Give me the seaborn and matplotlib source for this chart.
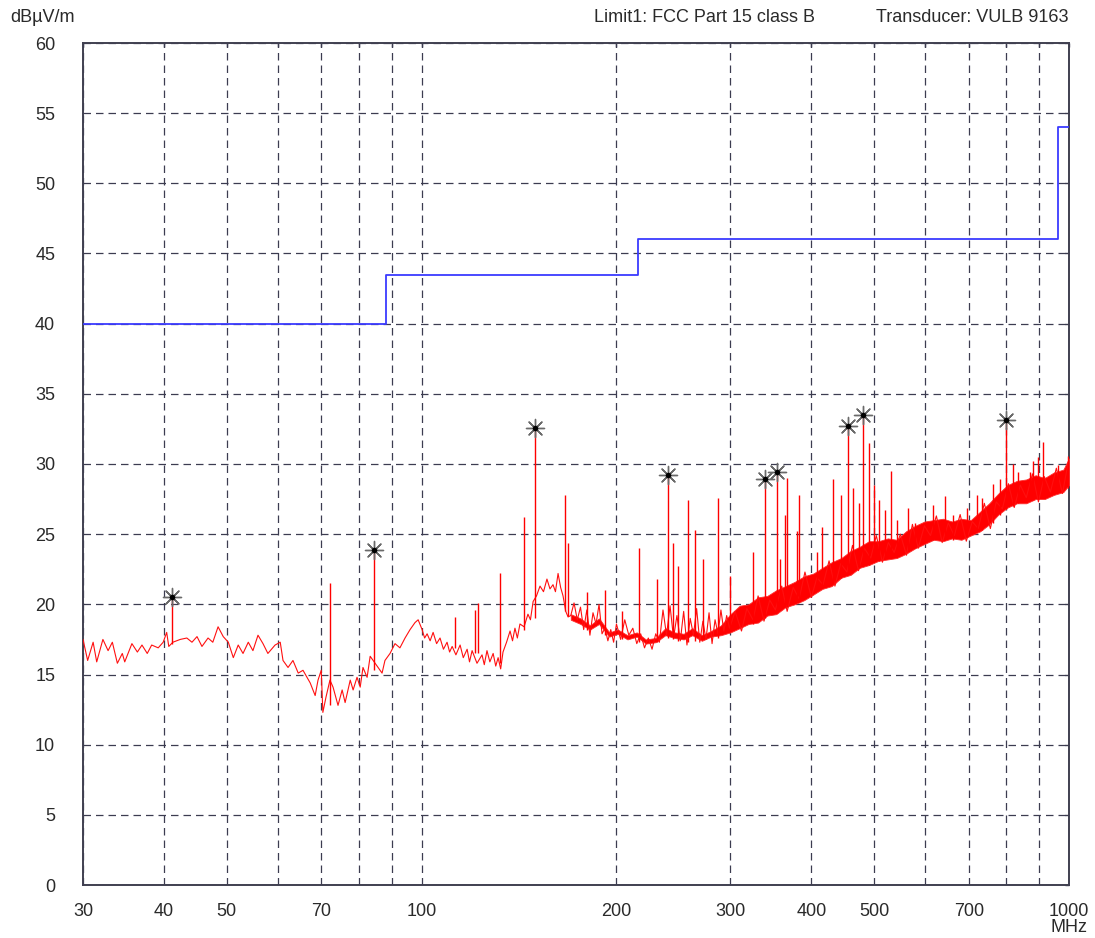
import numpy as np
import pandas as pd
import matplotlib
matplotlib.use("Agg")
import matplotlib.pyplot as plt
import seaborn as sns
from matplotlib.ticker import NullFormatter, FixedLocator

# limit line FCC Part 15 class B (step after each break)
limit_f = [30, 88, 216, 960, 1000]
limit_v = [40, 43.5, 46, 54, 54]

# measured trace, 30 - 168 MHz
low_f = [30.0, 30.5, 31.1, 31.5, 32.2, 32.8, 33.3, 33.9, 34.5, 34.8, 35.7, 36.4, 37.0, 37.7, 38.3,
         39.2, 39.9, 40.4, 40.7, 41.3, 42.4, 43.4, 44.2, 45.0, 45.8, 46.8, 47.6, 48.5, 49.4, 50.3,
         51.2, 52.1, 53.0, 54.0, 54.9, 55.9, 56.9, 57.9, 59.4, 60.5, 61.1, 62.2, 63.3, 64.5, 65.6,
         67.3, 68.5, 69.2, 70.0, 70.4, 71.2, 72.2, 73.0, 74.3, 75.4, 76.2, 77.6, 78.4, 79.5, 80.4,
         81.2, 82.4, 83.3, 85.7, 86.9, 87.8, 89.4, 91.0, 92.6, 94.3, 96.0, 97.7, 98.8,
         100.2, 101.1, 102.0, 103.1, 104.2, 105.5, 106.8, 108.1, 109.5, 110.5, 111.5, 113.0, 114.7,
         116.0, 117.6, 118.6, 119.7, 121.8, 124.0, 125.0, 126.2, 127.5, 129.0, 130.2, 131.3, 132.5,
         133.6, 135.3, 137.0, 138.2, 139.4, 140.6, 141.9, 144.0, 146.0, 147.3, 148.7, 150.5, 152.4,
         154.3, 156.2, 157.9, 159.6, 161.0, 162.5, 164.0, 165.4, 167.0, 168.4]
low_v = [17.5, 16.0, 17.3, 15.9, 17.5, 16.7, 17.3, 15.8, 16.5, 15.9, 17.2, 16.6, 17.1, 16.5, 17.1,
         16.9, 17.3, 18.0, 17.0, 17.3, 17.5, 17.6, 17.3, 17.7, 17.0, 17.6, 17.3, 18.4, 17.7, 17.3,
         16.2, 17.1, 16.5, 17.3, 16.7, 17.8, 17.2, 16.5, 17.1, 17.3, 16.0, 15.5, 16.0, 15.1, 15.3,
         14.4, 13.5, 14.6, 15.3, 12.3, 13.4, 14.6, 14.1, 12.8, 13.9, 13.0, 14.6, 13.9, 14.8, 14.1,
         15.5, 14.8, 16.3, 15.5, 15.1, 16.0, 16.5, 17.2, 16.9, 17.6, 18.2, 18.7, 18.9,
         18.2, 17.6, 17.9, 17.4, 18.0, 17.2, 17.6, 16.8, 17.3, 16.6, 17.0, 16.4, 17.1,
         16.2, 16.8, 15.9, 16.7, 15.8, 16.4, 15.7, 16.7, 15.9, 16.5, 15.6, 16.2, 15.4,
         16.6, 17.3, 18.1, 17.4, 18.3, 17.6, 18.6, 18.4, 19.3, 18.9, 20.2, 20.6, 21.3,
         20.9, 21.8, 21.1, 21.4, 20.9, 22.2, 21.2, 20.6, 19.5, 19.1]

# measured trace, 170 - 300 MHz
mid_f = [170, 172, 174, 176, 178, 180, 182, 184, 186, 188, 190, 192, 194, 196, 198, 200, 203, 206,
         209, 212, 215, 218, 221, 224, 227, 230, 233, 236, 239, 242, 245, 248, 251, 254, 257, 260,
         263, 266, 269, 272, 275, 278, 281, 284, 287, 290, 293, 296, 299]
mid_v = [19.2, 20.1, 18.9, 19.8, 18.2, 19.6, 17.8, 19.4, 18.6, 20.0, 17.9, 18.3, 17.4, 18.2, 17.3,
         18.6, 17.5, 18.9, 17.8, 18.3, 17.2, 17.9, 16.9, 17.6, 16.8, 17.9, 17.3, 19.6, 17.8, 19.9,
         17.6, 19.2, 17.4, 19.5, 17.1, 19.0, 17.8, 19.7, 17.3, 18.8, 17.5, 19.4, 17.2, 18.9, 17.9,
         19.6, 18.1, 19.2, 18.3]

# measured trace, 300 - 1000 MHz
high_f = [305, 312, 318, 325, 331, 338, 345, 352, 360, 367, 375, 383, 391, 400, 408, 417, 426, 435,
          444, 454, 463, 473, 483, 494, 504, 515, 526, 537, 549, 561, 573, 585, 598, 611, 624, 637,
          651, 665, 679, 694, 709, 724, 740, 756, 772, 789, 806, 823, 841, 859, 878, 897, 916, 936,
          956, 977, 998]
high_v = [19.5, 18.1, 19.7, 18.9, 20.6, 18.8, 20.3, 19.6, 21.3, 19.5, 21.2, 20.4, 22.3, 20.5, 21.9,
          21.4, 23.1, 21.3, 22.9, 22.3, 24.2, 22.4, 24.0, 23.3, 24.9, 23.0, 24.4, 23.7, 25.0, 23.5,
          25.7, 24.0, 25.6, 24.9, 26.3, 24.4, 25.8, 24.9, 26.4, 24.5, 25.9, 25.4, 27.2, 25.4, 27.3,
          26.8, 28.6, 26.9, 28.5, 27.6, 29.3, 27.3, 29.1, 28.0, 29.7, 27.9, 30.2]

# dense noise band edges, 170 - 1000 MHz
band_f = [170, 176, 182, 188, 195, 201, 208, 215, 222, 230, 238, 246, 254, 262, 271, 280, 290, 300,
          310, 320, 331, 342, 353, 365, 377, 390, 403, 416, 430, 445, 460, 475, 491, 508, 525, 542,
          560, 579, 598, 618, 639, 660, 682, 705, 729, 753, 778, 804, 831, 859, 888, 917, 948, 980,
          1000]
band_lo = [18.9, 18.6, 18.2, 18.6, 17.7, 17.9, 17.5, 17.7, 17.2, 17.3, 17.8, 17.6, 17.5, 17.8, 17.4,
           17.7, 17.8, 18.0, 18.3, 18.6, 18.7, 19.2, 19.3, 19.8, 20.0, 20.3, 20.7, 21.1, 21.3, 21.9,
           22.1, 22.6, 22.8, 23.1, 23.2, 23.3, 23.6, 24.0, 24.3, 24.6, 24.5, 24.7, 24.6, 24.9, 25.2,
           25.7, 26.4, 26.9, 27.2, 27.2, 27.5, 27.5, 27.8, 28.0, 28.5]
band_hi = [19.3, 19.0, 18.5, 19.0, 18.0, 18.2, 17.8, 18.0, 17.5, 17.6, 18.3, 18.0, 17.9, 18.3, 17.8,
           18.1, 18.5, 19.3, 19.9, 20.0, 20.5, 20.6, 21.0, 21.3, 21.6, 22.0, 22.2, 22.6, 23.0, 23.3,
           23.8, 24.1, 24.5, 24.5, 24.7, 24.6, 25.2, 25.6, 25.9, 26.0, 26.1, 25.9, 26.1, 26.0, 26.6,
           27.2, 27.9, 28.5, 28.8, 28.9, 29.2, 29.0, 29.4, 29.6, 30.4]

# narrow spikes: frequency, foot, top
spike_f = [41.2, 72.2, 84.4, 112.6, 121.0, 122.3, 132.2, 144.0, 149.7, 166.6, 168.4, 180.1, 192.1,
           204, 216.8, 231, 240.3, 244.6, 249, 258, 264.6, 272, 287, 300, 325, 339, 354, 358, 364,
           367, 380, 383, 408, 415.6, 432, 445, 456, 464, 474, 481, 491, 500, 509, 520, 531, 543,
           564, 578, 617, 644, 662, 696, 721, 734, 763, 783, 800, 820, 835, 871, 880, 896, 912,
           962, 997]
spike_lo = [17.2, 12.8, 15.3, 16.9, 16.5, 16.5, 15.8, 18.2, 19.0, 19.5, 19.2, 18.2, 17.8,
            17.5, 17.3, 17.3, 17.6, 17.5, 17.4, 17.3, 17.4, 17.5, 17.6, 18.1, 18.6, 19.0, 19.4, 19.6,
            19.8, 19.8, 20.2, 20.2, 21.0, 21.2, 21.5, 21.9, 22.2, 22.4, 22.6, 22.7, 22.8, 23.0, 23.1,
            23.2, 23.3, 23.4, 23.8, 24.0, 24.6, 24.6, 24.6, 24.8, 25.2, 25.3, 25.8, 26.4, 26.8, 27.0,
            27.2, 27.4, 27.4, 27.5, 27.6, 28.0, 28.3]
spike_hi = [20.5, 21.5, 23.9, 19.1, 19.6, 20.1, 22.2, 26.2, 32.6, 27.8, 24.4, 20.9, 21.0,
            19.5, 24.0, 21.8, 29.2, 24.4, 22.7, 27.4, 25.3, 23.2, 27.6, 22.0, 23.7, 28.9, 29.4, 23.2,
            26.4, 29.0, 25.2, 27.8, 23.7, 25.5, 28.9, 27.8, 32.7, 28.3, 27.2, 33.5, 31.5, 28.5, 27.4,
            26.7, 29.5, 26.0, 26.9, 25.8, 27.1, 27.7, 26.4, 26.9, 27.8, 27.6, 28.6, 28.9, 33.1, 30.0,
            29.4, 29.4, 30.2, 30.5, 31.6, 29.9, 30.6]

# marked peaks
peak_f = [41.2, 84.4, 149.7, 240.3, 339, 354, 456, 481, 800]
peak_v = [20.5, 23.9, 32.6, 29.2, 28.9, 29.4, 32.7, 33.5, 33.1]

x_ticks = [30, 40, 50, 70, 100, 200, 300, 400, 500, 700, 1000]
x_grid = [60, 80, 90, 600, 800, 900]
y_ticks = list(range(0, 61, 5))

sns.set_theme(style="white")
plt.rcParams['font.family'] = ['Liberation Sans', 'DejaVu Sans']
txt_col = "#2a2a2a"

fig, ax = plt.subplots(figsize=(10.95, 9.38), dpi=100)
fig.subplots_adjust(left=83/1095, right=1069/1095, bottom=(938-885)/938, top=(938-43)/938)

trace = pd.DataFrame({"f": low_f + mid_f + high_f, "v": low_v + mid_v + high_v})

ax.fill_between(band_f, band_lo, band_hi, color="#ff0000", lw=0.6, edgecolor="#ff3030", zorder=3)
sns.lineplot(data=trace, x="f", y="v", ax=ax, color="#ff1010", lw=0.8,
             sort=False, estimator=None, zorder=4)
ax.vlines(spike_f, spike_lo, spike_hi, color="#ff0000", lw=1.0, zorder=4)
sns.lineplot(x=limit_f, y=limit_v, ax=ax, color="#3a3aff", lw=1.3, drawstyle="steps-post",
             sort=False, estimator=None, zorder=5)
ax.scatter(peak_f, peak_v, marker=(8, 2, 0), s=170, c="#6a6a6a", linewidths=1.0, zorder=6)
sns.scatterplot(x=peak_f, y=peak_v, ax=ax, marker="o", s=14, color="black",
                edgecolor="black", zorder=7)

ax.set_xscale("log")
ax.set_xlim(30, 1000)
ax.set_ylim(0, 60)
ax.xaxis.set_major_locator(FixedLocator(x_ticks))
ax.xaxis.set_minor_locator(FixedLocator(x_grid))
ax.xaxis.set_minor_formatter(NullFormatter())
ax.set_xticklabels([str(t) for t in x_ticks])
ax.set_yticks(y_ticks)
ax.set_xlabel("")
ax.set_ylabel("")

grid_kw = dict(color="#3c3c50", lw=0.9, linestyle=(0, (6, 4)))
ax.grid(False)
ax.xaxis.grid(True, which="both", **grid_kw)
ax.yaxis.grid(True, which="major", **grid_kw)
ax.set_axisbelow(True)

ax.tick_params(axis="both", which="both", direction="in", length=3, width=1, color="#3c3c50",
               top=True, right=True, labelsize=13, labelcolor=txt_col)
ax.tick_params(axis="y", pad=20)
ax.tick_params(axis="x", pad=13)
for sp in ax.spines.values():
    sp.set_color("#404050")
    sp.set_linewidth(1.4)

fig.text(10/1095, 1 - 18/938, "dBµV/m", fontsize=13, color=txt_col, ha="left", va="center")
fig.text(815/1095, 1 - 18/938, "Limit1: FCC Part 15 class B", fontsize=13, color=txt_col,
         ha="right", va="center")
fig.text(1068/1095, 1 - 18/938, "Transducer: VULB 9163", fontsize=13, color=txt_col,
         ha="right", va="center")
fig.text(1069/1095, 1 - 936/938, "MHz", fontsize=13, color=txt_col, ha="center", va="bottom")

fig.savefig("out.png", dpi=100, facecolor="white")
